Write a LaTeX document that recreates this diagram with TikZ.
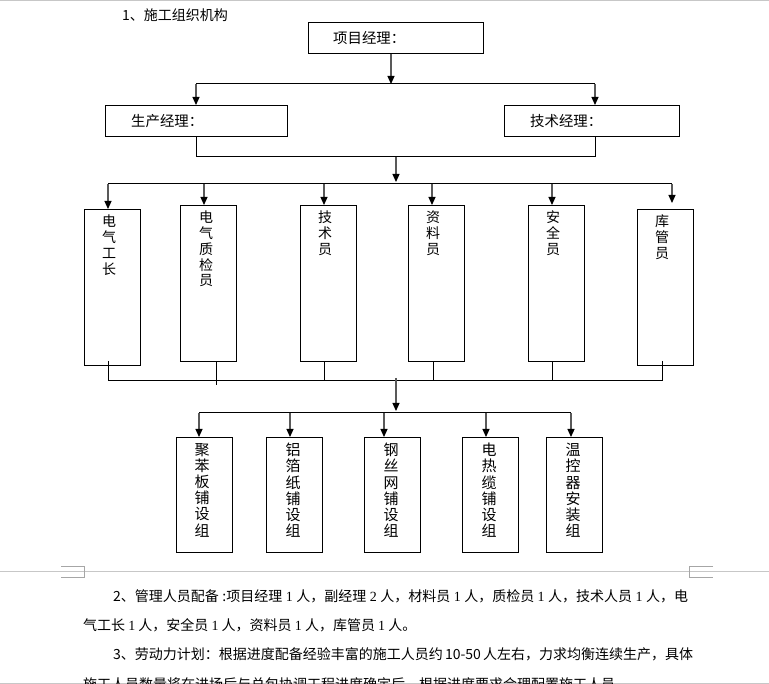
\documentclass[tikz,border=0pt]{standalone}
\usepackage{fontspec}
\setmainfont{Noto Sans CJK SC}
\newfontfamily\tnr{Liberation Serif}
\XeTeXlinebreaklocale "zh"
\XeTeXlinebreakskip = 0pt plus 1pt minus 0.2pt
\usetikzlibrary{arrows.meta}
\begin{document}
\begin{tikzpicture}[x=1pt,y=-1pt,
  box/.style={draw, line width=1pt, inner sep=0pt, anchor=north west},
  arr/.style={draw=black!65, line width=1.2pt, -{Triangle[width=7pt,length=8pt,color=black]}},
  ln/.style={draw=black, line width=1pt},
  hlabel/.style={anchor=west, inner sep=0pt, font=\fontsize{14.4}{16}\selectfont},
  vlabel/.style={anchor=north, inner sep=0pt, align=center, font=\fontsize{14}{15.7}\selectfont},
  vlabelb/.style={anchor=north, inner sep=0pt, align=center, font=\fontsize{15}{16.2}\selectfont},
  para/.style={anchor=west, inner sep=0pt, font=\fontsize{14}{16}\selectfont},
  sepline/.style={draw=black!22, line width=1pt},
  cornermark/.style={draw=black!35, line width=0.8pt}
]
\clip (0,0) rectangle (769,684);
\fill[white] (0,0) rectangle (769,684);

% title
\node[para] (title) at (122,15) {1、施工组织机构};

% top level
\node[box, minimum width=175pt, minimum height=31pt] (A) at (308,22) {};
\node[hlabel] (Atxt) at (333,38) {项目经理：};
\node[box, minimum width=182pt, minimum height=31pt] (B) at (105,105) {};
\node[hlabel] (Btxt) at (131,121) {生产经理：};
\node[box, minimum width=175pt, minimum height=31pt] (C) at (504,105) {};
\node[hlabel] (Ctxt) at (530,121) {技术经理：};

\coordinate (j1) at (391,84);
\coordinate (jL) at (196,84);
\coordinate (jR) at (595,84);
\draw[ln] (jL) -- (jR);
\draw[arr] (A.south -| j1) -- (j1);
\draw[arr] (jL) -- (B.north -| jL);
\draw[arr] (jR) -- (C.north -| jR);

\coordinate (kL) at (196,157);
\coordinate (kR) at (595,157);
\draw[ln] (B.south -| kL) -- (kL) -- (kR) -- (C.south -| kR);
\coordinate (k2) at (396,157);
\coordinate (m0) at (396,182);
\draw[arr] (k2) -- (m0);

% second row
\node[box, minimum width=56pt, minimum height=156pt] (b1) at (84,209) {};
\node[box, minimum width=56pt, minimum height=156pt] (b2) at (180,205) {};
\node[box, minimum width=56pt, minimum height=156pt] (b3) at (300,205) {};
\node[box, minimum width=56pt, minimum height=156pt] (b4) at (408,205) {};
\node[box, minimum width=56pt, minimum height=156pt] (b5) at (528,205) {};
\node[box, minimum width=56pt, minimum height=156pt] (b6) at (637,209) {};
\node[vlabel] (b1t) at (109,215) {电\\气\\工\\长};
\node[vlabel] (b2t) at (206,211) {电\\气\\质\\检\\员};
\node[vlabel] (b3t) at (325,211) {技\\术\\员};
\node[vlabel] (b4t) at (433,211) {资\\料\\员};
\node[vlabel] (b5t) at (553,211) {安\\全\\员};
\node[vlabel] (b6t) at (662,215) {库\\管\\员};

\coordinate (m1) at (108,184);
\coordinate (m2) at (204,184);
\coordinate (m3) at (324,184);
\coordinate (m4) at (432,184);
\coordinate (m5) at (552,184);
\coordinate (m6) at (672,184);
\coordinate (m6e) at (672,203);
\draw[ln] (m1) -- (m6);
\draw[arr] (m1) -- (b1.north -| m1);
\draw[arr] (m2) -- (b2.north -| m2);
\draw[arr] (m3) -- (b3.north -| m3);
\draw[arr] (m4) -- (b4.north -| m4);
\draw[arr] (m5) -- (b5.north -| m5);
\draw[arr] (m6) -- (m6e);

% bottom collector of second row
\coordinate (n1) at (108,381);
\coordinate (n2) at (216,381);
\coordinate (n3) at (324,381);
\coordinate (n4) at (433,381);
\coordinate (n5) at (552,381);
\coordinate (n6) at (662,381);
\coordinate (n2e) at (216,385);
\draw[ln] (n1) -- (n6);
\draw[ln] (108,361) -- (n1);
\draw[ln] (b2.south -| n2) -- (n2e);
\draw[ln] (b3.south -| n3) -- (n3);
\draw[ln] (b4.south -| n4) -- (n4);
\draw[ln] (b5.south -| n5) -- (n5);
\draw[ln] (662,361) -- (n6);

\coordinate (p0) at (396,378);
\coordinate (p0e) at (396,411);
\draw[arr] (p0) -- (p0e);

% third row
\node[box, minimum width=56pt, minimum height=115pt] (c1) at (176,437) {};
\node[box, minimum width=56pt, minimum height=115pt] (c2) at (266,437) {};
\node[box, minimum width=56pt, minimum height=115pt] (c3) at (364,437) {};
\node[box, minimum width=56pt, minimum height=115pt] (c4) at (462,437) {};
\node[box, minimum width=56pt, minimum height=115pt] (c5) at (546,437) {};
\node[vlabelb] (c1t) at (202,443) {聚\\苯\\板\\铺\\设\\组};
\node[vlabelb] (c2t) at (293,443) {铝\\箔\\纸\\铺\\设\\组};
\node[vlabelb] (c3t) at (391,443) {钢\\丝\\网\\铺\\设\\组};
\node[vlabelb] (c4t) at (489,443) {电\\热\\缆\\铺\\设\\组};
\node[vlabelb] (c5t) at (573,443) {温\\控\\器\\安\\装\\组};

\coordinate (q1) at (199,413);
\coordinate (q2) at (290,413);
\coordinate (q3) at (384,413);
\coordinate (q4) at (486,413);
\coordinate (q5) at (571,413);
\draw[ln] (q1) -- (q5);
\draw[arr] (q1) -- (c1.north -| q1);
\draw[arr] (q2) -- (c2.north -| q2);
\draw[arr] (q3) -- (c3.north -| q3);
\draw[arr] (q4) -- (c4.north -| q4);
\draw[arr] (q5) -- (c5.north -| q5);

% page separators
\draw[sepline] (0,0.5) -- (769,0.5);
\draw[sepline] (0,571) -- (769,571);
\draw[sepline] (0,683.5) -- (769,683.5);
\draw[cornermark] (61,566) -- (84,566) -- (84,577) -- (61,577);
\draw[cornermark] (713,566) -- (689,566) -- (689,577) -- (713,577);

% text
\node[para] (t1) at (113,596) {\makebox[575pt][s]{2、管理人员配备 :项目经理 {\tnr 1} 人，副经理 {\tnr 2} 人，材料员 {\tnr 1} 人，质检员 {\tnr 1} 人，技术人员 {\tnr 1} 人，电}};
\node[para] (t2) at (83,625) {气工长 {\tnr 1} 人，安全员 {\tnr 1} 人，资料员 {\tnr 1} 人，库管员 {\tnr 1} 人。};
\node[para] (t3) at (113,654) {\makebox[575pt][s]{3、劳动力计划：根据进度配备经验丰富的施工人员约 10-50 人左右，力求均衡连续生产，具体}};
\node[para] (t4) at (83,684) {施工人员数量将在进场后与总包协调工程进度确定后，根据进度要求合理配置施工人员};
\end{tikzpicture}
\end{document}
